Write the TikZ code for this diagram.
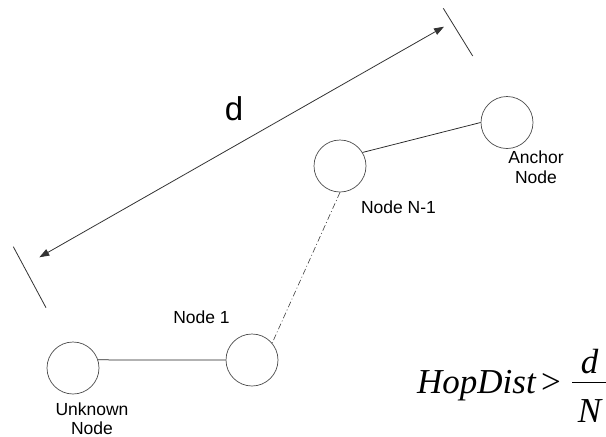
\documentclass[tikz,border=0pt]{standalone}
\usepackage{fontspec}
\setmainfont{Liberation Sans}
\newfontfamily\mathserif{Liberation Serif}
\usetikzlibrary{arrows.meta}

\tikzset{
  hop/.style={circle, draw=black!70, line width=0.7pt, minimum size=52pt, inner sep=0pt},
  link/.style={draw=black!85, line width=0.75pt},
  dashdotlink/.style={draw=black!75, line width=0.6pt, dash pattern=on 6pt off 2.5pt on 1pt off 2.5pt},
  tickline/.style={draw=black!80, line width=0.8pt},
  measure/.style={draw=black!80, line width=0.8pt, {Triangle[length=10pt,width=7pt]}-{Triangle[length=10pt,width=7pt]}},
  lbl/.style={font=\fontsize{17.5}{19}\selectfont, inner sep=0pt, align=center},
  eq/.style={font=\mathserif\itshape\fontsize{35}{40}\selectfont, inner sep=0pt}
}

\begin{document}
\begin{tikzpicture}[x=1pt, y=-1pt]
  \useasboundingbox (0,0) rectangle (606,437);

  % hop nodes
  \node[hop] (unk) at (73,368) {};
  \node[hop] (n1)  at (252,360) {};
  \node[hop] (nN)  at (340,166) {};
  \node[hop] (anc) at (507,122.5) {};

  % links between hops
  \draw[link] (unk.18) -- (n1.west);
  \draw[dashdotlink] (nN.south) -- (n1.40);
  \draw[link] (nN.31) -- (anc.west);

  % node labels
  \node[lbl] (lunk) at (92,419) {Unknown\\Node};
  \node[lbl] (ln1)  at (201.5,317) {Node 1};
  \node[lbl] (lnN)  at (398.5,207.5) {Node N-1};
  \node[lbl, font=\fontsize{17.5}{20}\selectfont] (lanc) at (536,167) {Anchor\\Node};

  % distance d between the end ticks
  \coordinate (tlA) at (13.3,246.7);
  \coordinate (tlB) at (46,307.7);
  \coordinate (trA) at (443.3,8.3);
  \coordinate (trB) at (472.7,56);
  \draw[tickline] (tlA) -- (tlB);
  \draw[tickline] (trA) -- (trB);
  \coordinate (dL) at (39.3,257.3);
  \coordinate (dR) at (444,26.7);
  \draw[measure] (dL) -- (dR);
  \node[font=\fontsize{33}{36}\selectfont, inner sep=0pt] (dlbl) at (234,108.7) {d};

  % hop distance bound
  \node[eq, anchor=base west] (hd) at (417,393.3) {HopDist};
  \node[eq, font=\mathserif\fontsize{35}{40}\selectfont, anchor=base] (gt) at (551,393.3) {>};
  \node[eq, anchor=base] (num) at (589.5,373.3) {d};
  \node[eq, anchor=base] (den) at (589.5,422) {N};
  \coordinate (barL) at (572,382.7);
  \coordinate (barR) at (606,382.7);
  \draw[line width=1.3pt] (barL) -- (barR);
\end{tikzpicture}
\end{document}
